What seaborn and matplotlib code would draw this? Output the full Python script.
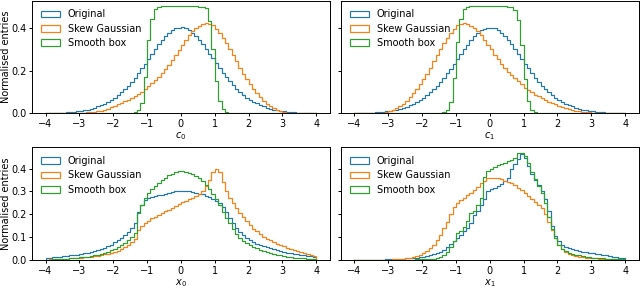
import numpy as np
import pandas as pd
import matplotlib
matplotlib.use("Agg")
import matplotlib.pyplot as plt
import seaborn as sns
from matplotlib.patches import Patch

plt.rcParams["font.size"] = 7.0
plt.rcParams["axes.labelsize"] = 7.0
plt.rcParams["axes.labelpad"] = 1.0
plt.rcParams["axes.linewidth"] = 0.7
for ax_name in ("xtick", "ytick"):
    plt.rcParams[f"{ax_name}.major.size"] = 2.3
    plt.rcParams[f"{ax_name}.major.pad"] = 1.8
    plt.rcParams[f"{ax_name}.major.width"] = 0.7

# ---- histogram binning (80 bins of width 0.1 on [-4, 4]) ----
bin_edges = np.linspace(-4, 4, 81)
bin_centres = 0.5 * (bin_edges[:-1] + bin_edges[1:])

series_names = ["Original", "Skew Gaussian", "Smooth box"]
series_colors = ["#1f77b4", "#ff7f0e", "#2ca02c"]
panel_labels = ["$c_0$", "$c_1$", "$x_0$", "$x_1$"]
y_label = "Normalised entries"

# ---- normalised bin contents ----
c0_original = [0.001, 0.0015, 0.002, 0.0025, 0.003, 0.004, 0.005, 0.006, 0.008, 0.010,
               0.012, 0.015, 0.018, 0.022, 0.027, 0.033, 0.039, 0.046, 0.054, 0.063,
               0.073, 0.085, 0.098, 0.113, 0.130, 0.148, 0.167, 0.188, 0.210, 0.232,
               0.255, 0.278, 0.300, 0.322, 0.342, 0.360, 0.376, 0.388, 0.396, 0.400,
               0.401, 0.397, 0.389, 0.377, 0.361, 0.343, 0.323, 0.301, 0.279, 0.256,
               0.233, 0.211, 0.189, 0.168, 0.149, 0.131, 0.114, 0.099, 0.086, 0.074,
               0.064, 0.055, 0.047, 0.040, 0.033, 0.027, 0.022, 0.018, 0.015, 0.012,
               0.010, 0.008, 0.006, 0.005, 0.004, 0.003, 0.0025, 0.002, 0.0015, 0.001]
c0_skew = [0.000, 0.000, 0.000, 0.000, 0.001, 0.001, 0.001, 0.002, 0.002, 0.003,
           0.003, 0.004, 0.005, 0.006, 0.008, 0.010, 0.013, 0.017, 0.022, 0.028,
           0.035, 0.042, 0.049, 0.056, 0.064, 0.072, 0.080, 0.090, 0.100, 0.112,
           0.126, 0.140, 0.155, 0.170, 0.187, 0.205, 0.225, 0.247, 0.270, 0.295,
           0.320, 0.343, 0.364, 0.382, 0.397, 0.408, 0.416, 0.420, 0.418, 0.410,
           0.395, 0.376, 0.352, 0.326, 0.298, 0.270, 0.242, 0.214, 0.186, 0.160,
           0.136, 0.114, 0.094, 0.076, 0.060, 0.046, 0.034, 0.024, 0.016, 0.010,
           0.006, 0.004, 0.003, 0.002, 0.001, 0.001, 0.000, 0.000, 0.000, 0.000]
c0_box = [0, 0, 0, 0, 0, 0, 0, 0, 0, 0,
          0, 0, 0, 0, 0, 0, 0, 0, 0, 0,
          0, 0, 0, 0, 0.001, 0.002, 0.005, 0.015, 0.050, 0.170,
          0.340, 0.440, 0.485, 0.496, 0.499, 0.500, 0.501, 0.500, 0.501, 0.500,
          0.500, 0.501, 0.500, 0.500, 0.499, 0.498, 0.495, 0.490, 0.430, 0.300,
          0.150, 0.060, 0.020, 0.006, 0.002, 0.001, 0, 0, 0, 0,
          0, 0, 0, 0, 0, 0, 0, 0, 0, 0,
          0, 0, 0, 0, 0, 0, 0, 0, 0, 0]

c1_original = [0.001, 0.0015, 0.002, 0.003, 0.003, 0.004, 0.005, 0.006, 0.008, 0.010,
               0.012, 0.015, 0.018, 0.022, 0.027, 0.032, 0.039, 0.046, 0.054, 0.063,
               0.073, 0.085, 0.098, 0.113, 0.129, 0.147, 0.167, 0.188, 0.209, 0.231,
               0.254, 0.277, 0.299, 0.321, 0.341, 0.359, 0.375, 0.387, 0.395, 0.399,
               0.400, 0.396, 0.388, 0.376, 0.360, 0.342, 0.322, 0.300, 0.278, 0.255,
               0.232, 0.210, 0.188, 0.167, 0.148, 0.130, 0.113, 0.098, 0.085, 0.073,
               0.063, 0.054, 0.046, 0.039, 0.033, 0.027, 0.022, 0.018, 0.015, 0.012,
               0.010, 0.008, 0.006, 0.005, 0.004, 0.003, 0.0025, 0.002, 0.0015, 0.001]
c1_skew = [0.000, 0.000, 0.000, 0.000, 0.001, 0.001, 0.002, 0.003, 0.004, 0.006,
           0.010, 0.016, 0.024, 0.034, 0.046, 0.060, 0.076, 0.094, 0.114, 0.136,
           0.160, 0.186, 0.214, 0.242, 0.270, 0.298, 0.326, 0.352, 0.376, 0.395,
           0.410, 0.418, 0.420, 0.416, 0.408, 0.397, 0.382, 0.364, 0.343, 0.320,
           0.298, 0.274, 0.252, 0.231, 0.212, 0.195, 0.179, 0.164, 0.150, 0.135,
           0.120, 0.108, 0.098, 0.088, 0.079, 0.070, 0.062, 0.055, 0.048, 0.042,
           0.036, 0.030, 0.025, 0.020, 0.016, 0.013, 0.010, 0.008, 0.006, 0.005,
           0.004, 0.003, 0.002, 0.002, 0.001, 0.001, 0.001, 0.000, 0.000, 0.000]
c1_box = [0, 0, 0, 0, 0, 0, 0, 0, 0, 0,
          0, 0, 0, 0, 0, 0, 0, 0, 0, 0,
          0, 0, 0, 0, 0.001, 0.002, 0.006, 0.014, 0.052, 0.165,
          0.335, 0.442, 0.486, 0.497, 0.500, 0.499, 0.500, 0.501, 0.500, 0.499,
          0.500, 0.500, 0.501, 0.499, 0.500, 0.498, 0.494, 0.482, 0.435, 0.320,
          0.160, 0.058, 0.018, 0.006, 0.002, 0.001, 0, 0, 0, 0,
          0, 0, 0, 0, 0, 0, 0, 0, 0, 0,
          0, 0, 0, 0, 0, 0, 0, 0, 0, 0]

x0_original = [0.009, 0.010, 0.012, 0.013, 0.015, 0.016, 0.018, 0.020, 0.022, 0.024,
               0.027, 0.029, 0.032, 0.035, 0.038, 0.042, 0.047, 0.053, 0.060, 0.068,
               0.078, 0.088, 0.098, 0.110, 0.124, 0.140, 0.160, 0.210, 0.240, 0.262,
               0.272, 0.278, 0.281, 0.283, 0.286, 0.288, 0.292, 0.297, 0.300, 0.302,
               0.303, 0.301, 0.300, 0.298, 0.295, 0.291, 0.287, 0.281, 0.275, 0.268,
               0.260, 0.248, 0.232, 0.210, 0.185, 0.160, 0.140, 0.122, 0.108, 0.096,
               0.087, 0.079, 0.072, 0.066, 0.061, 0.056, 0.051, 0.047, 0.043, 0.039,
               0.036, 0.033, 0.030, 0.027, 0.025, 0.022, 0.020, 0.018, 0.016, 0.014]
x0_skew = [0.002, 0.003, 0.003, 0.004, 0.004, 0.005, 0.006, 0.007, 0.008, 0.009,
           0.010, 0.012, 0.013, 0.015, 0.017, 0.019, 0.022, 0.025, 0.028, 0.032,
           0.036, 0.041, 0.047, 0.055, 0.065, 0.078, 0.092, 0.130, 0.148, 0.160,
           0.172, 0.182, 0.190, 0.198, 0.206, 0.213, 0.221, 0.229, 0.237, 0.245,
           0.252, 0.259, 0.266, 0.273, 0.281, 0.290, 0.302, 0.322, 0.350, 0.385,
           0.400, 0.385, 0.340, 0.300, 0.272, 0.250, 0.228, 0.207, 0.188, 0.170,
           0.153, 0.138, 0.125, 0.113, 0.103, 0.094, 0.086, 0.079, 0.072, 0.066,
           0.060, 0.054, 0.049, 0.044, 0.039, 0.035, 0.031, 0.027, 0.023, 0.019]
x0_box = [0.002, 0.002, 0.003, 0.003, 0.004, 0.005, 0.006, 0.007, 0.008, 0.010,
          0.012, 0.013, 0.015, 0.017, 0.020, 0.023, 0.027, 0.031, 0.036, 0.042,
          0.049, 0.057, 0.066, 0.076, 0.088, 0.100, 0.118, 0.205, 0.240, 0.270,
          0.293, 0.310, 0.325, 0.338, 0.350, 0.360, 0.370, 0.378, 0.384, 0.388,
          0.389, 0.387, 0.383, 0.377, 0.369, 0.358, 0.346, 0.330, 0.312, 0.290,
          0.265, 0.240, 0.212, 0.186, 0.160, 0.135, 0.115, 0.098, 0.085, 0.075,
          0.066, 0.058, 0.051, 0.045, 0.040, 0.035, 0.031, 0.027, 0.023, 0.020,
          0.017, 0.015, 0.013, 0.011, 0.009, 0.008, 0.007, 0.006, 0.005, 0.004]

x1_original = [0.000, 0.000, 0.001, 0.001, 0.001, 0.001, 0.002, 0.002, 0.002, 0.003,
               0.003, 0.004, 0.004, 0.005, 0.006, 0.007, 0.008, 0.010, 0.011, 0.013,
               0.015, 0.018, 0.021, 0.025, 0.030, 0.036, 0.045, 0.058, 0.070, 0.082,
               0.098, 0.110, 0.125, 0.140, 0.160, 0.195, 0.215, 0.240, 0.265, 0.300,
               0.310, 0.316, 0.324, 0.332, 0.345, 0.360, 0.400, 0.420, 0.440, 0.462,
               0.448, 0.410, 0.375, 0.350, 0.330, 0.300, 0.265, 0.215, 0.150, 0.105,
               0.085, 0.068, 0.058, 0.052, 0.047, 0.043, 0.039, 0.036, 0.034, 0.032,
               0.029, 0.027, 0.025, 0.022, 0.020, 0.018, 0.015, 0.013, 0.011, 0.009]
x1_skew = [0.000, 0.000, 0.000, 0.000, 0.000, 0.001, 0.001, 0.001, 0.001, 0.002,
           0.002, 0.003, 0.004, 0.005, 0.006, 0.008, 0.010, 0.013, 0.017, 0.022,
           0.030, 0.040, 0.052, 0.068, 0.088, 0.110, 0.140, 0.168, 0.200, 0.230,
           0.250, 0.262, 0.272, 0.283, 0.295, 0.307, 0.320, 0.335, 0.347, 0.357,
           0.360, 0.359, 0.357, 0.354, 0.348, 0.343, 0.336, 0.328, 0.317, 0.306,
           0.292, 0.280, 0.265, 0.252, 0.240, 0.228, 0.200, 0.165, 0.130, 0.098,
           0.068, 0.048, 0.035, 0.027, 0.022, 0.018, 0.015, 0.013, 0.011, 0.010,
           0.008, 0.007, 0.006, 0.005, 0.004, 0.004, 0.003, 0.003, 0.002, 0.002]
x1_box = [0.000, 0.000, 0.000, 0.000, 0.000, 0.000, 0.000, 0.000, 0.000, 0.001,
          0.001, 0.001, 0.001, 0.001, 0.001, 0.002, 0.002, 0.002, 0.003, 0.003,
          0.003, 0.004, 0.005, 0.006, 0.008, 0.012, 0.020, 0.035, 0.055, 0.085,
          0.120, 0.128, 0.146, 0.170, 0.205, 0.215, 0.240, 0.270, 0.365, 0.390,
          0.400, 0.408, 0.415, 0.420, 0.426, 0.432, 0.438, 0.445, 0.468, 0.470,
          0.455, 0.425, 0.385, 0.355, 0.325, 0.295, 0.250, 0.190, 0.135, 0.095,
          0.065, 0.048, 0.038, 0.032, 0.027, 0.023, 0.020, 0.017, 0.015, 0.013,
          0.011, 0.010, 0.008, 0.007, 0.006, 0.005, 0.004, 0.004, 0.003, 0.003]

panels = [
    [c0_original, c0_skew, c0_box],
    [c1_original, c1_skew, c1_box],
    [x0_original, x0_skew, x0_box],
    [x1_original, x1_skew, x1_box],
]

fig, axes = plt.subplots(2, 2, figsize=(6.4, 2.88), dpi=100)
fig.subplots_adjust(left=0.05, right=0.998, top=0.998, bottom=0.097,
                    wspace=0.037, hspace=0.30)
axes[0, 1].sharey(axes[0, 0])
axes[1, 1].sharey(axes[1, 0])

edge_list = [float(e) for e in bin_edges]

for ax, label, series in zip(axes.flat, panel_labels, panels):
    for name, color, values in zip(series_names, series_colors, series):
        df = pd.DataFrame({"x": bin_centres, "w": values})
        sns.histplot(data=df, x="x", weights="w", bins=edge_list,
                     element="step", fill=False, color=color,
                     linewidth=0.85, ax=ax, legend=False)
    # close each step outline down to the baseline at both ends
    for line in ax.lines:
        xd = np.asarray(line.get_xdata(), dtype=float)
        yd = np.asarray(line.get_ydata(), dtype=float)
        line.set_data(np.r_[xd[0], xd, xd[-1]], np.r_[0.0, yd, 0.0])
    ax.set_xlabel(label)
    ax.set_ylabel("")
    ax.set_xticks(np.arange(-4, 5, 1))
    handles = [Patch(facecolor="none", edgecolor=c, linewidth=0.85) for c in series_colors]
    ax.legend(handles, series_names, loc="upper left", frameon=False,
              labelspacing=0.45, handletextpad=0.8)

for row in range(2):
    axes[row, 0].relim()
    axes[row, 0].autoscale_view()
    axes[row, 1].relim()
    axes[row, 1].autoscale_view()
    axes[row, 0].set_ylim(bottom=0)
    axes[row, 0].set_ylabel(y_label)
    axes[row, 0].yaxis.set_label_coords(-0.072, 0.5)
    axes[row, 1].tick_params(labelleft=False)

fig.savefig("out.png", dpi=100)
